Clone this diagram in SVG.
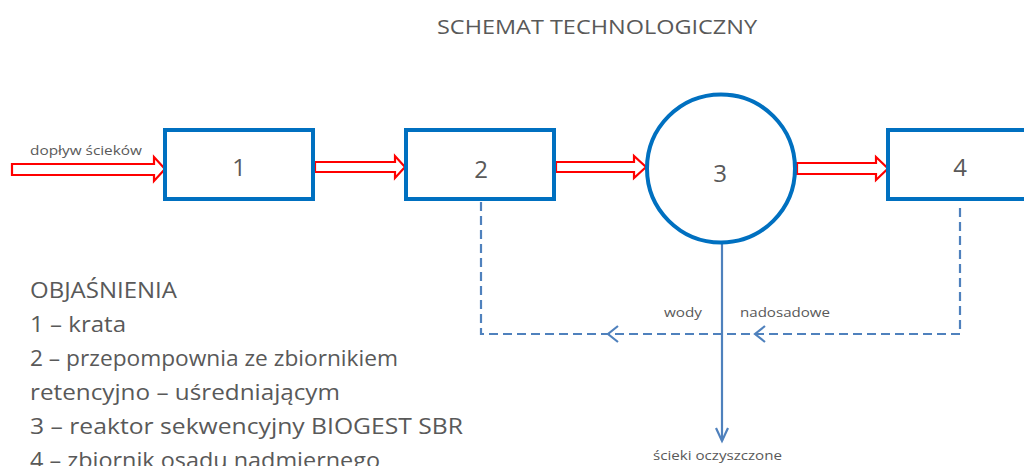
<svg xmlns="http://www.w3.org/2000/svg" width="1024" height="466" viewBox="0 0 1024 466">
<style>
.box{fill:#fff;stroke:#0070c0;stroke-width:4}
.blk{fill:#fff;stroke:#ff0000;stroke-width:2.2;stroke-linejoin:miter}
.dash{fill:none;stroke:#4f81bd;stroke-width:2.2;stroke-dasharray:9 5}
.sol{fill:none;stroke:#4f81bd;stroke-width:2.2}
.chev{fill:none;stroke:#4f81bd;stroke-width:2.2}
.t{font-family:"Open Sans","Liberation Sans",sans-serif;fill:#595959}
.num{font-size:24px;text-anchor:middle}
.lbl{font-size:12px}
.leg{font-size:21px}
</style>
<rect width="1024" height="466" fill="#fff"/>
<text class="t" x="437" y="34" font-size="20" textLength="320" lengthAdjust="spacingAndGlyphs">SCHEMAT TECHNOLOGICZNY</text>

<g id="connectors">
  <path class="blk" d="M12,164 H154 V157 L165,169 L154,181 V175 H12 Z"/>
  <path class="blk" d="M315,162 H395 V156 L405,167 L395,178 V172 H315 Z"/>
  <path class="blk" d="M556,162 H634 V156 L646,167 L634,178 V172 H556 Z"/>
  <path class="blk" d="M797,163 H876 V157 L888,168.5 L876,180 V174 H797 Z"/>
  <path class="dash" d="M481,202 V334 H960 V204"/>
  <path class="chev" d="M618,326 L608,334 L618,342"/>
  <path class="chev" d="M765,326 L755,334 L765,342"/>
  <path class="sol" d="M722,243 V441"/>
  <path class="chev" d="M716,428 L722,441 L728,428"/>
</g>

<g id="node1">
  <rect class="box" x="165" y="130" width="148" height="69"/>
  <text class="t num" x="239" y="176">1</text>
</g>
<g id="node2">
  <rect class="box" x="406" y="130" width="148" height="69"/>
  <text class="t num" x="481" y="178">2</text>
</g>
<g id="node3">
  <circle class="box" cx="721" cy="168.5" r="74"/>
  <text class="t num" x="720" y="182">3</text>
</g>
<g id="node4">
  <rect class="box" x="888" y="130" width="150" height="69"/>
  <text class="t num" x="960" y="176">4</text>
</g>

<g id="labels">
  <text class="t lbl" x="30" y="155" textLength="112" lengthAdjust="spacingAndGlyphs">dopływ ścieków</text>
  <text class="t lbl" x="664" y="317" textLength="38" lengthAdjust="spacingAndGlyphs">wody</text>
  <text class="t lbl" x="740" y="317" textLength="90" lengthAdjust="spacingAndGlyphs">nadosadowe</text>
  <text class="t lbl" x="653" y="460" textLength="129" lengthAdjust="spacingAndGlyphs">ścieki oczyszczone</text>
</g>

<g id="legend">
  <text class="t leg" x="30" y="298" textLength="147" lengthAdjust="spacingAndGlyphs">OBJAŚNIENIA</text>
  <text class="t leg" x="30" y="332" textLength="96" lengthAdjust="spacingAndGlyphs">1 – krata</text>
  <text class="t leg" x="30" y="366" textLength="368" lengthAdjust="spacingAndGlyphs">2 – przepompownia  ze zbiornikiem</text>
  <text class="t leg" x="30" y="400" textLength="310" lengthAdjust="spacingAndGlyphs">retencyjno – uśredniającym</text>
  <text class="t leg" x="30" y="434" textLength="433" lengthAdjust="spacingAndGlyphs">3 – reaktor sekwencyjny  BIOGEST SBR</text>
  <text class="t leg" x="30" y="468" textLength="350" lengthAdjust="spacingAndGlyphs">4 – zbiornik osadu nadmiernego</text>
</g>
</svg>
